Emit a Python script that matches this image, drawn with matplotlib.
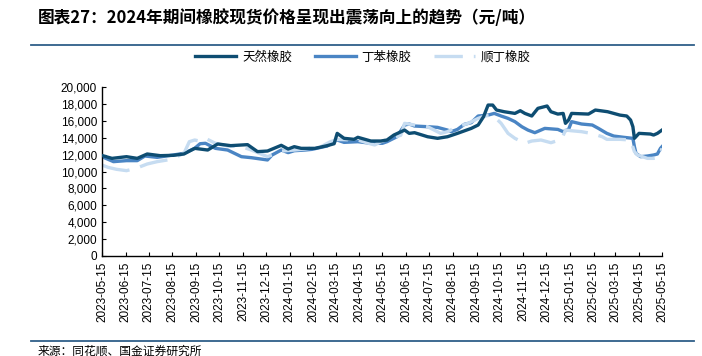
import matplotlib
matplotlib.use("Agg")
import matplotlib.pyplot as plt
import matplotlib.dates as mdates
from matplotlib.lines import Line2D
from matplotlib.ticker import FuncFormatter, MultipleLocator
import pandas as pd

title = "图表27：2024年期间橡胶现货价格呈现出震荡向上的趋势（元/吨）"
source = "来源：同花顺、国金证券研究所"
series_names = ["天然橡胶", "丁苯橡胶", "顺丁橡胶"]

nr_dates = ["2023-05-15", "2023-05-28", "2023-06-16", "2023-06-30", "2023-07-13", "2023-07-30",
            "2023-08-16", "2023-08-30", "2023-09-13", "2023-09-30", "2023-10-13", "2023-10-30",
            "2023-11-21", "2023-12-04", "2023-12-17", "2024-01-04", "2024-01-13", "2024-01-21",
            "2024-01-30", "2024-02-17", "2024-03-04", "2024-03-13", "2024-03-17", "2024-03-26",
            "2024-04-08", "2024-04-13", "2024-04-30", "2024-05-13", "2024-05-21", "2024-05-30",
            "2024-06-13", "2024-06-19", "2024-06-26", "2024-07-13", "2024-07-26", "2024-08-08",
            "2024-08-21", "2024-09-08", "2024-09-17", "2024-09-24", "2024-09-30", "2024-10-06",
            "2024-10-11", "2024-10-21", "2024-11-04", "2024-11-11", "2024-11-17", "2024-11-26",
            "2024-12-04", "2024-12-16", "2024-12-21", "2024-12-30", "2025-01-06", "2025-01-09",
            "2025-01-13", "2025-01-17", "2025-02-08", "2025-02-17", "2025-03-05", "2025-03-21",
            "2025-03-30", "2025-04-04", "2025-04-07", "2025-04-09", "2025-04-15", "2025-04-30",
            "2025-05-04", "2025-05-09", "2025-05-15"]
nr_values = [11900, 11560, 11760, 11560, 12080, 11880,
             11920, 12080, 12750, 12550, 13270, 13070,
             13190, 12360, 12430, 13110, 12670, 12950,
             12750, 12750, 13070, 13300, 14530, 13940,
             13820, 14060, 13620, 13620, 13740, 14330,
             14920, 14530, 14610, 14130, 13940, 14130,
             14530, 15120, 15520, 16500, 17890, 17890,
             17300, 17100, 16900, 17220, 16900, 16590,
             17500, 17780, 17100, 16820, 16900, 15720,
             16110, 16900, 16820, 17300, 17100, 16700,
             16590, 16110, 15320, 13940, 14530, 14450,
             14330, 14530, 14920]

sbr_dates = ["2023-05-15", "2023-05-30", "2023-06-16", "2023-06-30", "2023-07-10", "2023-07-26",
             "2023-08-16", "2023-08-30", "2023-09-13", "2023-09-20", "2023-09-27", "2023-10-10",
             "2023-10-26", "2023-11-13", "2023-11-26", "2023-12-17", "2023-12-23", "2024-01-04",
             "2024-01-13", "2024-01-21", "2024-02-04", "2024-02-13", "2024-03-04", "2024-03-12",
             "2024-03-17", "2024-03-26", "2024-04-13", "2024-04-30", "2024-05-15", "2024-05-21",
             "2024-06-03", "2024-06-13", "2024-06-19", "2024-06-26", "2024-07-13", "2024-07-26",
             "2024-08-08", "2024-08-13", "2024-08-21", "2024-08-30", "2024-09-08", "2024-09-17",
             "2024-09-30", "2024-10-08", "2024-10-17", "2024-10-26", "2024-11-04", "2024-11-13",
             "2024-11-21", "2024-11-30", "2024-12-13", "2024-12-30", "2025-01-06", "2025-01-13",
             "2025-01-17", "2025-01-30", "2025-02-13", "2025-02-21", "2025-03-04", "2025-03-13",
             "2025-03-26", "2025-04-07", "2025-04-09", "2025-04-11", "2025-04-17", "2025-04-26",
             "2025-05-04", "2025-05-09", "2025-05-13", "2025-05-15"]
sbr_values = [11760, 11170, 11290, 11290, 11840, 11680,
              11960, 12160, 12750, 13300, 13350, 12750,
              12550, 11760, 11640, 11370, 11960, 12550,
              12240, 12470, 12550, 12630, 13030, 13540,
              13740, 13460, 13540, 13350, 13350, 13540,
              14130, 15520, 15640, 15400, 15320, 15240,
              14920, 14730, 15000, 15600, 15800, 16590,
              16700, 16900, 16590, 16310, 15920, 15320,
              14920, 14610, 15120, 15000, 14730, 15000,
              15920, 15640, 15520, 15120, 14530, 14210,
              14060, 13940, 12950, 12160, 11760, 11840,
              11960, 12080, 12750, 12950]

br_dates = ["2023-05-15", "2023-05-23", "2023-06-03", "2023-06-16", "2023-06-29", "2023-07-13",
            "2023-07-26", "2023-08-13", "2023-08-30", "2023-09-06", "2023-09-13", "2023-09-20",
            "2023-09-27", "2023-10-10", "2023-10-26", "2023-11-13", "2023-11-26", "2023-12-17",
            "2023-12-23", "2024-01-04", "2024-01-21", "2024-02-04", "2024-02-26", "2024-03-08",
            "2024-03-17", "2024-04-13", "2024-04-30", "2024-05-05", "2024-05-13", "2024-05-26",
            "2024-06-08", "2024-06-13", "2024-06-26", "2024-07-13", "2024-07-30", "2024-08-08",
            "2024-08-21", "2024-09-04", "2024-09-17", "2024-09-26", "2024-10-04", "2024-10-08",
            "2024-10-17", "2024-10-26", "2024-11-04", "2024-11-17", "2024-11-26", "2024-12-08",
            "2024-12-21", "2025-01-04", "2025-01-09", "2025-01-17", "2025-01-30", "2025-02-13",
            "2025-02-26", "2025-03-04", "2025-03-21", "2025-04-04", "2025-04-09", "2025-04-13",
            "2025-04-26", "2025-05-04", "2025-05-11", "2025-05-15"]
br_values = [10770, 10490, 10260, 10100, 10400, 10890,
             11170, 11440, 12160, 13540, 13740, 13600,
             13940, 13350, 13030, 12950, 12550, 11760,
             11960, 12430, 12550, 12670, 13000, 13540,
             13800, 13740, 13270, 13150, 13540, 13940,
             14300, 15720, 15520, 15320, 14530, 14730,
             15320, 15720, 16310, 16590, 16700, 16510,
             15720, 14530, 13940, 13350, 13620, 13740,
             13420, 13820, 14920, 14840, 14730, 14500,
             14130, 13820, 13820, 13740, 12360, 11960,
             11560, 11560, 11680, 12750]

x_start, x_end = "2023-05-15", "2025-05-15"
tick_dates = pd.date_range("2023-05-01", "2025-05-01", freq="MS") + pd.Timedelta(days=14)

c_dark = "#0e4d72"
c_mid = "#4a85c4"
c_light = "#c6dcf1"
rule_color = "#2f5f89"

cjk = ["Noto Sans CJK SC", "DejaVu Sans"]
num_font = ["Liberation Sans", "DejaVu Sans"]

fig = plt.figure(figsize=(7.02, 3.56), dpi=100)
ax = fig.add_axes([102 / 702, 1 - 255.7 / 356, (662 - 102) / 702, (255.7 - 87.3) / 356])

lw = 2.4
ax.plot(pd.to_datetime(nr_dates), nr_values, color=c_dark, lw=lw, label=series_names[0],
        solid_joinstyle="round", zorder=3)
ax.plot(pd.to_datetime(sbr_dates), sbr_values, color=c_mid, lw=lw, label=series_names[1],
        solid_joinstyle="round", zorder=2)
ax.plot(pd.to_datetime(br_dates), br_values, color=c_light, lw=lw, label=series_names[2],
        dashes=(8.5, 3.3), zorder=2.5)

ax.set_xlim(pd.Timestamp(x_start), pd.Timestamp(x_end))
ax.set_ylim(0, 20000)
ax.yaxis.set_major_locator(MultipleLocator(2000))
ax.yaxis.set_major_formatter(FuncFormatter(lambda v, p: f"{int(v):,}"))
ax.set_xticks(tick_dates)
ax.xaxis.set_major_formatter(mdates.DateFormatter("%Y-%m-%d"))
for s in ["top", "right"]:
    ax.spines[s].set_visible(False)
for s in ["left", "bottom"]:
    ax.spines[s].set_color("black")
    ax.spines[s].set_linewidth(1.0)
ax.tick_params(axis="both", direction="in", length=3, width=0.8, colors="black")
ax.tick_params(axis="x", labelrotation=90, pad=4)
for lab in ax.get_xticklabels() + ax.get_yticklabels():
    lab.set_fontfamily(num_font)
    lab.set_fontsize(8.5)

fig.text(38 / 702, 1 - 18 / 356, title, fontsize=12, fontweight="bold", family=cjk,
         va="center", ha="left", color="black")
fig.add_artist(Line2D([31 / 702, 694 / 702], [1 - 45 / 356] * 2, color=rule_color, lw=1.3))
fig.add_artist(Line2D([31 / 702, 694 / 702], [1 - 341 / 356] * 2, color=rule_color, lw=1.3))
fig.text(38 / 702, 1 - 351 / 356, source, fontsize=8.5, family=cjk, va="center", ha="left",
         color="black")

leg = fig.legend(loc="center", bbox_to_anchor=(363 / 702, 1 - 57 / 356), ncol=3, frameon=False,
                 prop={"family": cjk, "size": 9}, handlelength=3.3, handletextpad=0.45,
                 columnspacing=1.8)

fig.savefig("out.png", dpi=100)
